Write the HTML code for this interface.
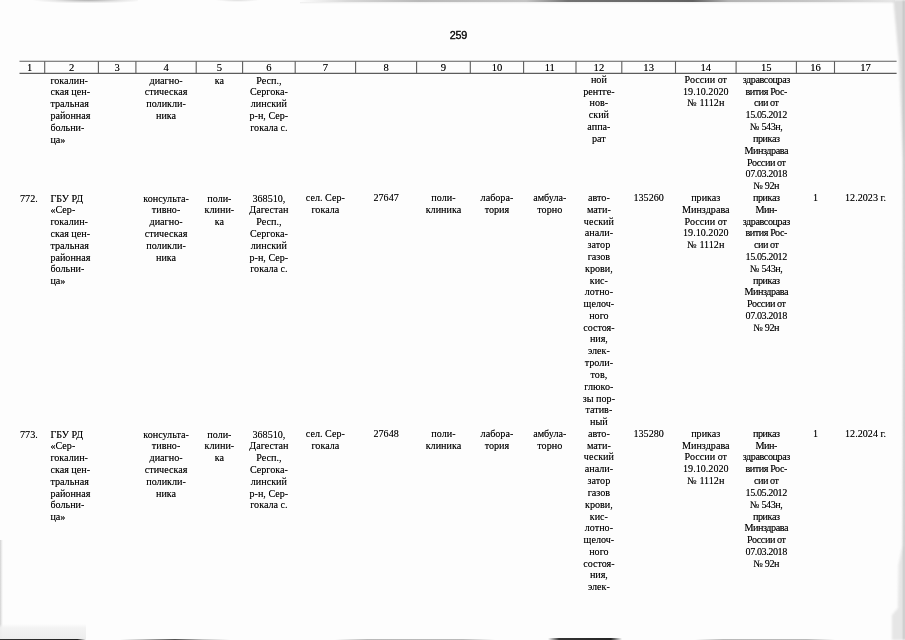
<!DOCTYPE html>
<html lang="ru"><head><meta charset="utf-8"><title>259</title>
<style>
html,body{margin:0;padding:0;}
body{width:905px;height:640px;overflow:hidden;background:#fdfdfd;position:relative;
 font-family:"Liberation Serif","Times New Roman",serif;font-size:10.15px;line-height:11.8px;color:#000;text-shadow:0 0 0.6px rgba(0,0,0,.5);}
#pg{position:absolute;left:0;top:0;width:905px;height:640px;overflow:hidden;}
.c{position:absolute;text-align:center;white-space:nowrap;line-height:11px;height:11px;}
#tx{position:absolute;left:0;top:0;width:905px;height:640px;filter:blur(0.3px);}
.a{position:absolute;}
.l{text-align:left;}
.k{letter-spacing:-0.42px;}
.hl{position:absolute;background:#4a4a4a;}
.num{position:absolute;left:440.3px;width:36px;top:27.5px;text-align:center;font-family:"Liberation Sans",Arial,sans-serif;font-size:10.8px;line-height:14px;color:#111;letter-spacing:-0.25px;-webkit-text-stroke:0.3px #111;}
.h{position:absolute;top:62.4px;height:11.5px;text-align:center;line-height:11.5px;font-size:10.6px;}
</style></head><body><div id="pg">

<div class="a" style="left:20px;top:0;width:118px;height:4px;background:radial-gradient(ellipse 56px 3.5px at 68px 0px,rgba(120,120,120,.6),rgba(175,175,175,.3) 60%,rgba(255,255,255,0));"></div>
<div class="a" style="left:215px;top:0;width:45px;height:2px;background:radial-gradient(ellipse 22px 2px at 50% 0,rgba(170,170,170,.4),rgba(255,255,255,0));"></div>
<div class="a" style="left:300px;top:0;width:595px;height:1.5px;background:linear-gradient(90deg,rgba(150,150,150,0),rgba(160,160,160,.4) 8%,rgba(130,130,130,.55) 20%,rgba(140,140,140,.5) 38%,rgba(80,80,80,.8) 45%,rgba(70,70,70,.85) 66%,rgba(130,130,130,.6) 72%,rgba(150,150,150,.5) 88%,rgba(200,200,200,.4) 100%);"></div>
<div class="a" style="left:300px;top:1.5px;width:595px;height:2px;background:linear-gradient(180deg,rgba(215,215,215,.45),rgba(255,255,255,0));"></div>
<svg class="a" style="left:0;top:0;filter:blur(1.2px)" width="905" height="640" viewBox="0 0 905 640"><polygon fill="#dcdcdc" points="893,-4 910,-4 910,330 903.5,320 903,160 899,60"/><polygon fill="#e6e6e6" points="910,320 910,644 892,644 892,615 898,608 898.5,565 902.5,545 903.5,320"/><rect x="903.8" y="-4" width="6" height="648" fill="#9a9a9a"/></svg>
<div class="a" style="left:0;top:540px;width:3px;height:100px;background:linear-gradient(90deg,rgba(205,205,205,.9),rgba(230,230,230,.6) 60%,rgba(255,255,255,0));"></div>
<div class="a" style="left:0;top:624px;width:86px;height:15px;background:linear-gradient(180deg,rgba(245,245,245,0),rgba(242,242,242,.9) 25%,rgba(236,236,236,.95) 100%);"></div>
<div class="a" style="left:0;top:638.7px;width:86px;height:1.3px;background:linear-gradient(90deg,#333,#222 90%,rgba(60,60,60,0));"></div>
<div class="a" style="left:120px;top:639px;width:110px;height:1.2px;background:linear-gradient(90deg,rgba(120,120,120,0),rgba(140,140,140,.5) 20%,rgba(50,50,50,.85) 50%,rgba(140,140,140,.5) 75%,rgba(120,120,120,0));"></div>
<div class="a" style="left:335px;top:638.8px;width:160px;height:1.2px;background:linear-gradient(90deg,rgba(120,120,120,0),rgba(130,130,130,.55) 20%,rgba(130,130,130,.55) 80%,rgba(120,120,120,0));"></div>
<div class="a" style="left:548px;top:638.4px;width:74px;height:1.6px;background:linear-gradient(90deg,rgba(60,60,60,0),rgba(30,30,30,.9) 15%,rgba(25,25,25,.95) 85%,rgba(60,60,60,0));"></div>
<div class="a" style="left:695px;top:638.8px;width:140px;height:1.2px;background:linear-gradient(90deg,rgba(120,120,120,0),rgba(130,130,130,.55) 20%,rgba(130,130,130,.55) 80%,rgba(120,120,120,0));"></div>
<div id="tx"><div class="num">259</div>
<svg class="a" style="left:0;top:0" width="905" height="640" viewBox="0 0 905 640"><g stroke="#5c5c5c" stroke-width="1.1" fill="none"><line x1="19.5" y1="61.2" x2="896.6" y2="61.2"/><line x1="19.5" y1="73.4" x2="896.6" y2="73.4"/><line x1="44.7" y1="61.2" x2="44.7" y2="73.4"/><line x1="98.4" y1="61.2" x2="98.4" y2="73.4"/><line x1="135.9" y1="61.2" x2="135.9" y2="73.4"/><line x1="196.2" y1="61.2" x2="196.2" y2="73.4"/><line x1="242.6" y1="61.2" x2="242.6" y2="73.4"/><line x1="295.2" y1="61.2" x2="295.2" y2="73.4"/><line x1="355.6" y1="61.2" x2="355.6" y2="73.4"/><line x1="416.6" y1="61.2" x2="416.6" y2="73.4"/><line x1="470.3" y1="61.2" x2="470.3" y2="73.4"/><line x1="523.6" y1="61.2" x2="523.6" y2="73.4"/><line x1="576.0" y1="61.2" x2="576.0" y2="73.4"/><line x1="621.8" y1="61.2" x2="621.8" y2="73.4"/><line x1="675.5" y1="61.2" x2="675.5" y2="73.4"/><line x1="736.1" y1="61.2" x2="736.1" y2="73.4"/><line x1="796.4" y1="61.2" x2="796.4" y2="73.4"/><line x1="834.5" y1="61.2" x2="834.5" y2="73.4"/></g></svg>
<div class="h" style="left:16.4px;width:26.7px;">1</div>
<div class="h" style="left:44.7px;width:53.7px;">2</div>
<div class="h" style="left:98.4px;width:37.5px;">3</div>
<div class="h" style="left:135.9px;width:60.3px;">4</div>
<div class="h" style="left:196.2px;width:46.4px;">5</div>
<div class="h" style="left:242.6px;width:52.6px;">6</div>
<div class="h" style="left:295.2px;width:60.4px;">7</div>
<div class="h" style="left:355.6px;width:61.0px;">8</div>
<div class="h" style="left:416.6px;width:53.7px;">9</div>
<div class="h" style="left:470.3px;width:53.3px;">10</div>
<div class="h" style="left:523.6px;width:52.4px;">11</div>
<div class="h" style="left:576.0px;width:45.8px;">12</div>
<div class="h" style="left:621.8px;width:53.7px;">13</div>
<div class="h" style="left:675.5px;width:60.6px;">14</div>
<div class="h" style="left:736.1px;width:60.3px;">15</div>
<div class="h" style="left:796.4px;width:38.1px;">16</div>
<div class="h" style="left:834.5px;width:62.1px;">17</div>
<div class="c l" style="left:50.4px;width:48.0px;top:75px;">гокалин-</div>
<div class="c l" style="left:50.4px;width:48.0px;top:86px;">ская цен-</div>
<div class="c l" style="left:50.4px;width:48.0px;top:98px;">тральная</div>
<div class="c l" style="left:50.4px;width:48.0px;top:110px;">районная</div>
<div class="c l" style="left:50.4px;width:48.0px;top:122px;">больни-</div>
<div class="c l" style="left:50.4px;width:48.0px;top:134px;">ца»</div>
<div class="c" style="left:135.9px;width:60.3px;top:75px;">диагно-</div>
<div class="c" style="left:135.9px;width:60.3px;top:86px;">стическая</div>
<div class="c" style="left:135.9px;width:60.3px;top:98px;">поликли-</div>
<div class="c" style="left:135.9px;width:60.3px;top:110px;">ника</div>
<div class="c" style="left:196.2px;width:46.4px;top:75px;">ка</div>
<div class="c" style="left:242.6px;width:52.6px;top:75px;">Респ.,</div>
<div class="c" style="left:242.6px;width:52.6px;top:86px;">Сергока-</div>
<div class="c" style="left:242.6px;width:52.6px;top:98px;">линский</div>
<div class="c" style="left:242.6px;width:52.6px;top:110px;">р-н, Сер-</div>
<div class="c" style="left:242.6px;width:52.6px;top:122px;">гокала с.</div>
<div class="c" style="left:576.0px;width:45.8px;top:74px;">ной</div>
<div class="c" style="left:576.0px;width:45.8px;top:86px;">рентге-</div>
<div class="c" style="left:576.0px;width:45.8px;top:97px;">нов-</div>
<div class="c" style="left:576.0px;width:45.8px;top:109px;">ский</div>
<div class="c" style="left:576.0px;width:45.8px;top:121px;">аппа-</div>
<div class="c" style="left:576.0px;width:45.8px;top:133px;">рат</div>
<div class="c" style="left:675.5px;width:60.6px;top:74px;">России от</div>
<div class="c" style="left:675.5px;width:60.6px;top:86px;">19.10.2020</div>
<div class="c" style="left:675.5px;width:60.6px;top:97px;">№ 1112н</div>
<div class="c k" style="left:736.1px;width:60.3px;top:74px;">здравсоцраз</div>
<div class="c k" style="left:736.1px;width:60.3px;top:86px;">вития Рос-</div>
<div class="c k" style="left:736.1px;width:60.3px;top:97px;">сии от</div>
<div class="c k" style="left:736.1px;width:60.3px;top:109px;">15.05.2012</div>
<div class="c k" style="left:736.1px;width:60.3px;top:121px;">№ 543н,</div>
<div class="c k" style="left:736.1px;width:60.3px;top:133px;">приказ</div>
<div class="c k" style="left:736.1px;width:60.3px;top:145px;">Минздрава</div>
<div class="c k" style="left:736.1px;width:60.3px;top:157px;">России от</div>
<div class="c k" style="left:736.1px;width:60.3px;top:168px;">07.03.2018</div>
<div class="c k" style="left:736.1px;width:60.3px;top:180px;">№ 92н</div>
<div class="c l" style="left:20.0px;width:24.0px;top:193px;">772.</div>
<div class="c l" style="left:50.4px;width:48.0px;top:193px;">ГБУ РД</div>
<div class="c l" style="left:50.4px;width:48.0px;top:204px;">«Сер-</div>
<div class="c l" style="left:50.4px;width:48.0px;top:216px;">гокалин-</div>
<div class="c l" style="left:50.4px;width:48.0px;top:228px;">ская цен-</div>
<div class="c l" style="left:50.4px;width:48.0px;top:240px;">тральная</div>
<div class="c l" style="left:50.4px;width:48.0px;top:252px;">районная</div>
<div class="c l" style="left:50.4px;width:48.0px;top:263px;">больни-</div>
<div class="c l" style="left:50.4px;width:48.0px;top:275px;">ца»</div>
<div class="c" style="left:135.9px;width:60.3px;top:193px;">консульта-</div>
<div class="c" style="left:135.9px;width:60.3px;top:204px;">тивно-</div>
<div class="c" style="left:135.9px;width:60.3px;top:216px;">диагно-</div>
<div class="c" style="left:135.9px;width:60.3px;top:228px;">стическая</div>
<div class="c" style="left:135.9px;width:60.3px;top:240px;">поликли-</div>
<div class="c" style="left:135.9px;width:60.3px;top:252px;">ника</div>
<div class="c" style="left:196.2px;width:46.4px;top:193px;">поли-</div>
<div class="c" style="left:196.2px;width:46.4px;top:204px;">клини-</div>
<div class="c" style="left:196.2px;width:46.4px;top:216px;">ка</div>
<div class="c" style="left:242.6px;width:52.6px;top:193px;">368510,</div>
<div class="c" style="left:242.6px;width:52.6px;top:204px;">Дагестан</div>
<div class="c" style="left:242.6px;width:52.6px;top:216px;">Респ.,</div>
<div class="c" style="left:242.6px;width:52.6px;top:228px;">Сергока-</div>
<div class="c" style="left:242.6px;width:52.6px;top:240px;">линский</div>
<div class="c" style="left:242.6px;width:52.6px;top:252px;">р-н, Сер-</div>
<div class="c" style="left:242.6px;width:52.6px;top:263px;">гокала с.</div>
<div class="c" style="left:295.2px;width:60.4px;top:192px;">сел. Сер-</div>
<div class="c" style="left:295.2px;width:60.4px;top:204px;">гокала</div>
<div class="c" style="left:355.6px;width:61.0px;top:192px;">27647</div>
<div class="c" style="left:416.6px;width:53.7px;top:192px;">поли-</div>
<div class="c" style="left:416.6px;width:53.7px;top:204px;">клиника</div>
<div class="c" style="left:470.3px;width:53.3px;top:192px;">лабора-</div>
<div class="c" style="left:470.3px;width:53.3px;top:204px;">тория</div>
<div class="c" style="left:523.6px;width:52.4px;top:192px;">амбула-</div>
<div class="c" style="left:523.6px;width:52.4px;top:204px;">торно</div>
<div class="c" style="left:576.0px;width:45.8px;top:192px;">авто-</div>
<div class="c" style="left:576.0px;width:45.8px;top:204px;">мати-</div>
<div class="c" style="left:576.0px;width:45.8px;top:216px;">ческий</div>
<div class="c" style="left:576.0px;width:45.8px;top:227px;">анали-</div>
<div class="c" style="left:576.0px;width:45.8px;top:239px;">затор</div>
<div class="c" style="left:576.0px;width:45.8px;top:251px;">газов</div>
<div class="c" style="left:576.0px;width:45.8px;top:263px;">крови,</div>
<div class="c" style="left:576.0px;width:45.8px;top:275px;">кис-</div>
<div class="c" style="left:576.0px;width:45.8px;top:286px;">лотно-</div>
<div class="c" style="left:576.0px;width:45.8px;top:298px;">щелоч-</div>
<div class="c" style="left:576.0px;width:45.8px;top:310px;">ного</div>
<div class="c" style="left:576.0px;width:45.8px;top:322px;">состоя-</div>
<div class="c" style="left:576.0px;width:45.8px;top:333px;">ния,</div>
<div class="c" style="left:576.0px;width:45.8px;top:345px;">элек-</div>
<div class="c" style="left:576.0px;width:45.8px;top:357px;">троли-</div>
<div class="c" style="left:576.0px;width:45.8px;top:369px;">тов,</div>
<div class="c" style="left:576.0px;width:45.8px;top:381px;">глюко-</div>
<div class="c" style="left:576.0px;width:45.8px;top:393px;">зы пор-</div>
<div class="c" style="left:576.0px;width:45.8px;top:404px;">татив-</div>
<div class="c" style="left:576.0px;width:45.8px;top:416px;">ный</div>
<div class="c" style="left:621.8px;width:53.7px;top:192px;">135260</div>
<div class="c" style="left:675.5px;width:60.6px;top:192px;">приказ</div>
<div class="c" style="left:675.5px;width:60.6px;top:204px;">Минздрава</div>
<div class="c" style="left:675.5px;width:60.6px;top:216px;">России от</div>
<div class="c" style="left:675.5px;width:60.6px;top:227px;">19.10.2020</div>
<div class="c" style="left:675.5px;width:60.6px;top:239px;">№ 1112н</div>
<div class="c k" style="left:736.1px;width:60.3px;top:192px;">приказ</div>
<div class="c k" style="left:736.1px;width:60.3px;top:204px;">Мин-</div>
<div class="c k" style="left:736.1px;width:60.3px;top:216px;">здравсоцраз</div>
<div class="c k" style="left:736.1px;width:60.3px;top:227px;">вития Рос-</div>
<div class="c k" style="left:736.1px;width:60.3px;top:239px;">сии от</div>
<div class="c k" style="left:736.1px;width:60.3px;top:251px;">15.05.2012</div>
<div class="c k" style="left:736.1px;width:60.3px;top:263px;">№ 543н,</div>
<div class="c k" style="left:736.1px;width:60.3px;top:275px;">приказ</div>
<div class="c k" style="left:736.1px;width:60.3px;top:286px;">Минздрава</div>
<div class="c k" style="left:736.1px;width:60.3px;top:298px;">России от</div>
<div class="c k" style="left:736.1px;width:60.3px;top:310px;">07.03.2018</div>
<div class="c k" style="left:736.1px;width:60.3px;top:322px;">№ 92н</div>
<div class="c" style="left:796.4px;width:38.1px;top:192px;">1</div>
<div class="c" style="left:834.5px;width:62.1px;top:192px;">12.2023 г.</div>
<div class="c l" style="left:20.0px;width:24.0px;top:429px;">773.</div>
<div class="c l" style="left:50.4px;width:48.0px;top:429px;">ГБУ РД</div>
<div class="c l" style="left:50.4px;width:48.0px;top:440px;">«Сер-</div>
<div class="c l" style="left:50.4px;width:48.0px;top:452px;">гокалин-</div>
<div class="c l" style="left:50.4px;width:48.0px;top:464px;">ская цен-</div>
<div class="c l" style="left:50.4px;width:48.0px;top:476px;">тральная</div>
<div class="c l" style="left:50.4px;width:48.0px;top:488px;">районная</div>
<div class="c l" style="left:50.4px;width:48.0px;top:499px;">больни-</div>
<div class="c l" style="left:50.4px;width:48.0px;top:511px;">ца»</div>
<div class="c" style="left:135.9px;width:60.3px;top:429px;">консульта-</div>
<div class="c" style="left:135.9px;width:60.3px;top:440px;">тивно-</div>
<div class="c" style="left:135.9px;width:60.3px;top:452px;">диагно-</div>
<div class="c" style="left:135.9px;width:60.3px;top:464px;">стическая</div>
<div class="c" style="left:135.9px;width:60.3px;top:476px;">поликли-</div>
<div class="c" style="left:135.9px;width:60.3px;top:488px;">ника</div>
<div class="c" style="left:196.2px;width:46.4px;top:429px;">поли-</div>
<div class="c" style="left:196.2px;width:46.4px;top:440px;">клини-</div>
<div class="c" style="left:196.2px;width:46.4px;top:452px;">ка</div>
<div class="c" style="left:242.6px;width:52.6px;top:429px;">368510,</div>
<div class="c" style="left:242.6px;width:52.6px;top:440px;">Дагестан</div>
<div class="c" style="left:242.6px;width:52.6px;top:452px;">Респ.,</div>
<div class="c" style="left:242.6px;width:52.6px;top:464px;">Сергока-</div>
<div class="c" style="left:242.6px;width:52.6px;top:476px;">линский</div>
<div class="c" style="left:242.6px;width:52.6px;top:488px;">р-н, Сер-</div>
<div class="c" style="left:242.6px;width:52.6px;top:499px;">гокала с.</div>
<div class="c" style="left:295.2px;width:60.4px;top:428px;">сел. Сер-</div>
<div class="c" style="left:295.2px;width:60.4px;top:440px;">гокала</div>
<div class="c" style="left:355.6px;width:61.0px;top:428px;">27648</div>
<div class="c" style="left:416.6px;width:53.7px;top:428px;">поли-</div>
<div class="c" style="left:416.6px;width:53.7px;top:440px;">клиника</div>
<div class="c" style="left:470.3px;width:53.3px;top:428px;">лабора-</div>
<div class="c" style="left:470.3px;width:53.3px;top:440px;">тория</div>
<div class="c" style="left:523.6px;width:52.4px;top:428px;">амбула-</div>
<div class="c" style="left:523.6px;width:52.4px;top:440px;">торно</div>
<div class="c" style="left:576.0px;width:45.8px;top:428px;">авто-</div>
<div class="c" style="left:576.0px;width:45.8px;top:440px;">мати-</div>
<div class="c" style="left:576.0px;width:45.8px;top:451px;">ческий</div>
<div class="c" style="left:576.0px;width:45.8px;top:463px;">анали-</div>
<div class="c" style="left:576.0px;width:45.8px;top:475px;">затор</div>
<div class="c" style="left:576.0px;width:45.8px;top:487px;">газов</div>
<div class="c" style="left:576.0px;width:45.8px;top:499px;">крови,</div>
<div class="c" style="left:576.0px;width:45.8px;top:511px;">кис-</div>
<div class="c" style="left:576.0px;width:45.8px;top:522px;">лотно-</div>
<div class="c" style="left:576.0px;width:45.8px;top:534px;">щелоч-</div>
<div class="c" style="left:576.0px;width:45.8px;top:546px;">ного</div>
<div class="c" style="left:576.0px;width:45.8px;top:558px;">состоя-</div>
<div class="c" style="left:576.0px;width:45.8px;top:569px;">ния,</div>
<div class="c" style="left:576.0px;width:45.8px;top:581px;">элек-</div>
<div class="c" style="left:621.8px;width:53.7px;top:428px;">135280</div>
<div class="c" style="left:675.5px;width:60.6px;top:428px;">приказ</div>
<div class="c" style="left:675.5px;width:60.6px;top:440px;">Минздрава</div>
<div class="c" style="left:675.5px;width:60.6px;top:451px;">России от</div>
<div class="c" style="left:675.5px;width:60.6px;top:463px;">19.10.2020</div>
<div class="c" style="left:675.5px;width:60.6px;top:475px;">№ 1112н</div>
<div class="c k" style="left:736.1px;width:60.3px;top:428px;">приказ</div>
<div class="c k" style="left:736.1px;width:60.3px;top:440px;">Мин-</div>
<div class="c k" style="left:736.1px;width:60.3px;top:451px;">здравсоцраз</div>
<div class="c k" style="left:736.1px;width:60.3px;top:463px;">вития Рос-</div>
<div class="c k" style="left:736.1px;width:60.3px;top:475px;">сии от</div>
<div class="c k" style="left:736.1px;width:60.3px;top:487px;">15.05.2012</div>
<div class="c k" style="left:736.1px;width:60.3px;top:499px;">№ 543н,</div>
<div class="c k" style="left:736.1px;width:60.3px;top:511px;">приказ</div>
<div class="c k" style="left:736.1px;width:60.3px;top:522px;">Минздрава</div>
<div class="c k" style="left:736.1px;width:60.3px;top:534px;">России от</div>
<div class="c k" style="left:736.1px;width:60.3px;top:546px;">07.03.2018</div>
<div class="c k" style="left:736.1px;width:60.3px;top:558px;">№ 92н</div>
<div class="c" style="left:796.4px;width:38.1px;top:428px;">1</div>
<div class="c" style="left:834.5px;width:62.1px;top:428px;">12.2024 г.</div>
</div></div></body></html>
